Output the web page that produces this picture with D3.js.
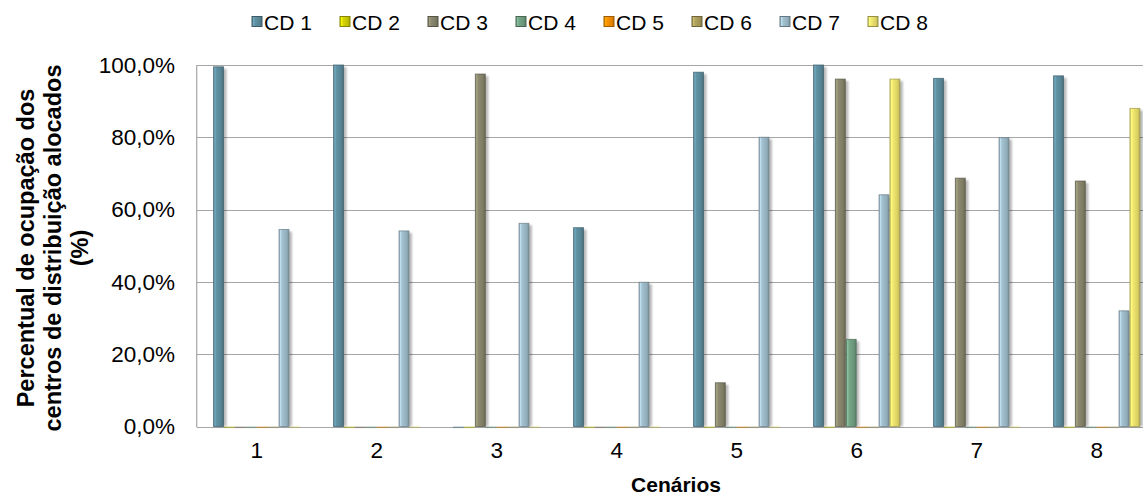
<!DOCTYPE html>
<html>
<head>
<meta charset="utf-8">
<script src="https://cdn.jsdelivr.net/npm/d3@7"></script>
<style>
  html, body { margin: 0; padding: 0; background: #ffffff; }
  svg { display: block; font-family: "Liberation Sans", Arial, sans-serif; }
</style>
</head>
<body>
<svg id="chart" width="1143" height="495"></svg>
<script>
// ---- data ----
const categories = ["1", "2", "3", "4", "5", "6", "7", "8"];
const seriesNames = ["CD 1", "CD 2", "CD 3", "CD 4", "CD 5", "CD 6", "CD 7", "CD 8"];
const cd1 = [99.5, 100.0, 0, 55.0, 98.0, 100.0, 96.3, 97.0];
const cd2 = [0, 0, 0, 0, 0, 0, 0, 0];
const cd3 = [0, 0, 97.5, 0, 12.1, 96.1, 68.7, 67.9];
const cd4 = [0, 0, 0, 0, 0, 24.1, 0, 0];
const cd5 = [0, 0, 0, 0, 0, 0, 0, 0];
const cd6 = [0, 0, 0, 0, 0, 0, 0, 0];
const cd7 = [54.5, 54.1, 56.2, 39.9, 80.0, 64.1, 79.9, 32.0];
const cd8 = [0, 0, 0, 0, 0, 96.1, 0, 88.0];
const seriesValues = [cd1, cd2, cd3, cd4, cd5, cd6, cd7, cd8];
const yTicks = [0, 20, 40, 60, 80, 100];
const yTitleLines = ["Percentual de ocupação dos", "centros de distribuição alocados", "(%)"];
const xTitle = "Cenários";
const colors = ["#5b8a9b", "#cccc00", "#85836a", "#6f9d80", "#f08c00", "#a89b5a", "#9bb8c6", "#e6dd6a"];

// ---- layout ----
const svg = d3.select("#chart");
const plotLeft = 196.7, plotTop = 65, plotBottom = 426.5, plotRight = 1156.7;

const x0 = d3.scaleBand().domain(categories).range([plotLeft, plotRight])
  .paddingInner(3 / 11).paddingOuter(1.5 / 11);
const x1 = d3.scaleBand().domain(seriesNames).range([0, x0.bandwidth()]).padding(0);
const y = d3.scaleLinear().domain([0, 100]).range([plotBottom, plotTop]);

const defs = svg.append("defs");
const filt = defs.append("filter").attr("id", "shadow").attr("x", "-50%").attr("y", "-10%").attr("width", "200%").attr("height", "130%");
filt.append("feGaussianBlur").attr("stdDeviation", 1.3);

colors.forEach((c, i) => {
  const base = d3.color(c);
  const g = defs.append("linearGradient").attr("id", "grad" + i).attr("x1", "0").attr("x2", "1").attr("y1", "0").attr("y2", "0");
  g.append("stop").attr("offset", "0%").attr("stop-color", base.darker(0.4));
  g.append("stop").attr("offset", "12%").attr("stop-color", base.brighter(0.6));
  g.append("stop").attr("offset", "30%").attr("stop-color", base.brighter(0.15));
  g.append("stop").attr("offset", "75%").attr("stop-color", base.darker(0.15));
  g.append("stop").attr("offset", "100%").attr("stop-color", base.darker(0.6));
});

// gridlines & frame
svg.append("g").selectAll("line").data(yTicks).join("line")
  .attr("x1", plotLeft).attr("x2", plotRight)
  .attr("y1", d => Math.round(y(d)) + 0.5).attr("y2", d => Math.round(y(d)) + 0.5)
  .attr("stroke", "#a6a6a6").attr("stroke-width", 1.2);
svg.append("line").attr("x1", plotLeft).attr("x2", plotLeft).attr("y1", plotTop).attr("y2", plotBottom + 0.5)
  .attr("stroke", "#a6a6a6").attr("stroke-width", 1.2);

// y axis labels
const yAxis = d3.axisLeft(y).tickValues(yTicks).tickSize(0).tickPadding(0)
  .tickFormat(d => d3.format(".1f")(d).replace(".", ",") + "%");
const yg = svg.append("g").attr("transform", `translate(175,0)`).call(yAxis);
yg.select(".domain").remove();
yg.selectAll("text").attr("font-size", 22.5).attr("fill", "#000").attr("font-family", "Liberation Sans, Arial, sans-serif");

// x axis labels
const xAxis = d3.axisBottom(x0).tickSize(0).tickPadding(0);
const xg = svg.append("g").attr("transform", `translate(0,442)`).call(xAxis);
xg.select(".domain").remove();
xg.selectAll("text").attr("font-size", 22.5).attr("fill", "#000").attr("font-family", "Liberation Sans, Arial, sans-serif");

// bars
const groups = svg.append("g").selectAll("g").data(categories).join("g")
  .attr("transform", d => `translate(${x0(d)},0)`);

const barData = (c, ci) => seriesNames.map((s, si) => ({ s, si, v: seriesValues[si][ci] }));

groups.each(function (c, ci) {
  const g = d3.select(this);
  const data = barData(c, ci);
  // shadows
  g.selectAll("rect.sh").data(data.filter(d => d.v > 0)).join("rect").attr("class", "sh")
    .attr("x", d => x1(d.s) + 2.5).attr("y", d => y(d.v) + 2)
    .attr("width", x1.bandwidth()).attr("height", d => y(0) - y(d.v) - 2)
    .attr("fill", "#000").attr("opacity", 0.28).attr("filter", "url(#shadow)");
  // zero bars: thin line
  g.selectAll("rect.zero").data(data.filter(d => d.v === 0)).join("rect").attr("class", "zero")
    .attr("x", d => x1(d.s)).attr("y", y(0))
    .attr("width", x1.bandwidth()).attr("height", 1.6)
    .attr("fill", d => d3.color(colors[d.si]).darker(0.5)).attr("opacity", 0.5);
  // bars
  g.selectAll("rect.bar").data(data.filter(d => d.v > 0)).join("rect").attr("class", "bar")
    .attr("x", d => x1(d.s) + 0.5).attr("y", d => y(d.v))
    .attr("width", x1.bandwidth() - 1).attr("height", d => y(0) - y(d.v))
    .attr("fill", d => `url(#grad${d.si})`)
    .attr("stroke", d => d3.color(colors[d.si]).darker(1.1)).attr("stroke-opacity", 0.7).attr("stroke-width", 1);
});

// legend
const legendX0 = 252, legendStep = 88, legendY = 22;
const lg = svg.append("g").selectAll("g").data(seriesNames).join("g")
  .attr("transform", (d, i) => `translate(${legendX0 + i * legendStep},${legendY})`);
lg.append("rect").attr("x", 0).attr("y", -5.5).attr("width", 10).attr("height", 10)
  .attr("fill", (d, i) => `url(#grad${i})`)
  .attr("stroke", (d, i) => d3.color(colors[i]).darker(1.2)).attr("stroke-width", 1);
lg.append("text").attr("x", 12).attr("y", 0).attr("dy", "0.36em")
  .attr("font-size", 21).attr("fill", "#000").text(d => d);

// axis titles
svg.append("text").attr("x", 676).attr("y", 485).attr("dy", "0.35em").attr("text-anchor", "middle")
  .attr("font-size", 21).attr("font-weight", "bold").text(xTitle);

const ytg = svg.append("g").attr("transform", "translate(0,248) rotate(-90)");
const lineX = [26, 53, 80];
yTitleLines.forEach((t, i) => {
  ytg.append("text").attr("x", 0).attr("y", lineX[i]).attr("dy", "0.35em").attr("text-anchor", "middle")
    .attr("font-size", 23.5).attr("font-weight", "bold").text(t);
});
</script>
</body>
</html>
